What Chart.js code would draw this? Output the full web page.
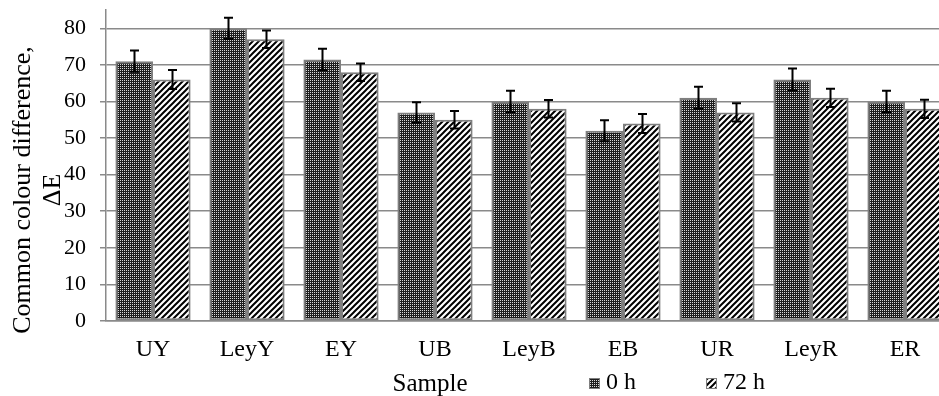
<!DOCTYPE html>
<html>
<head>
<meta charset="utf-8">
<script src="https://cdn.jsdelivr.net/npm/chart.js@4.4.1/dist/chart.umd.min.js"></script>
<style>
  html, body { margin: 0; padding: 0; background: #ffffff; overflow: hidden; }
  #wrap { width: 960px; height: 396px; }
</style>
</head>
<body>
<div id="wrap"><canvas id="c" width="960" height="396"></canvas></div>
<script>
const categories = ['UY', 'LeyY', 'EY', 'UB', 'LeyB', 'EB', 'UR', 'LeyR', 'ER'];
const values0h  = [71, 80, 71.5, 57, 60, 52, 61, 66, 60];
const values72h = [66, 77, 68, 55, 58, 54, 57, 61, 58];
const err0h  = [2.9, 2.9, 2.9, 2.8, 2.9, 2.85, 3.0, 3.0, 2.9];
const err72h = [2.6, 2.4, 2.4, 2.4, 2.4, 2.6, 2.5, 2.5, 2.5];
const seriesLabels = ['0 h', '72 h'];
const yTickValues = [0, 10, 20, 30, 40, 50, 60, 70, 80];
const yTitleLines = ['Common colour difference,', 'ΔE'];
const xTitle = 'Sample';

const SERIF = '"Liberation Serif", "DejaVu Serif", serif';
const GRID = '#8a8a8a';

function checkerPattern() {
  const c = document.createElement('canvas');
  c.width = 2; c.height = 2;
  const g = c.getContext('2d');
  g.fillStyle = '#1e1e1e';
  g.fillRect(0, 0, 2, 2);
  g.fillStyle = '#d8d8d8';
  g.fillRect(0, 0, 1, 1);
  return g.createPattern(c, 'repeat');
}
function hatchPattern() {
  const s = 6;
  const c = document.createElement('canvas');
  c.width = s; c.height = s;
  const g = c.getContext('2d');
  g.fillStyle = '#ffffff';
  g.fillRect(0, 0, s, s);
  g.strokeStyle = '#000000';
  g.lineWidth = 2;
  g.beginPath();
  g.moveTo(-1, s + 1); g.lineTo(s + 1, -1);
  g.moveTo(-1, 1); g.lineTo(1, -1);
  g.moveTo(s - 1, s + 1); g.lineTo(s + 1, s - 1);
  g.stroke();
  return g.createPattern(c, 'repeat');
}

const fills = [checkerPattern(), hatchPattern()];
const errors = [err0h, err72h];

const errorBarPlugin = {
  id: 'errorBars',
  afterDatasetsDraw(chart) {
    const ctx = chart.ctx;
    const y = chart.scales.y;
    ctx.save();
    ctx.strokeStyle = '#000000';
    ctx.lineWidth = 2;
    chart.data.datasets.forEach((ds, di) => {
      const meta = chart.getDatasetMeta(di);
      meta.data.forEach((bar, i) => {
        const v = ds.data[i];
        const e = errors[di][i];
        const x = Math.round(bar.x) + 0.5;
        const yt = y.getPixelForValue(v + e);
        const yb = y.getPixelForValue(v - e);
        ctx.beginPath();
        ctx.moveTo(x, yt); ctx.lineTo(x, yb);
        ctx.moveTo(x - 4.5, yt); ctx.lineTo(x + 4.5, yt);
        ctx.moveTo(x - 4.5, yb); ctx.lineTo(x + 4.5, yb);
        ctx.stroke();
      });
    });
    ctx.restore();
  }
};

const textPlugin = {
  id: 'extraText',
  afterDraw(chart) {
    const ctx = chart.ctx;
    ctx.save();
    ctx.fillStyle = '#000000';
    ctx.font = '26px ' + SERIF;
    ctx.textAlign = 'center';
    ctx.textBaseline = 'middle';
    const cy = 190;
    const xs = [23, 53];
    yTitleLines.forEach((t, i) => {
      ctx.save();
      ctx.translate(xs[i], cy);
      ctx.rotate(-Math.PI / 2);
      ctx.fillText(t, 0, 0);
      ctx.restore();
    });
    ctx.font = '25px ' + SERIF;
    ctx.textAlign = 'center';
    ctx.textBaseline = 'alphabetic';
    ctx.fillText(xTitle, 430, 391);
    const legendX = [589, 706];
    ctx.font = '24px ' + SERIF;
    ctx.textAlign = 'left';
    chart.data.datasets.forEach((ds, i) => {
      const lx = legendX[i];
      ctx.fillStyle = fills[i];
      ctx.fillRect(lx, 378, 10, 10);
      ctx.strokeStyle = '#7f7f7f';
      ctx.lineWidth = 1;
      ctx.strokeRect(lx + 0.5, 378.5, 10, 10);
      ctx.fillStyle = '#000000';
      ctx.fillText(ds.label, lx + 17, 389);
    });
    ctx.restore();
  }
};

new Chart(document.getElementById('c'), {
  type: 'bar',
  data: {
    labels: categories,
    datasets: [
      { label: seriesLabels[0], data: values0h, backgroundColor: fills[0], borderColor: '#7f7f7f', borderWidth: 2, borderSkipped: false },
      { label: seriesLabels[1], data: values72h, backgroundColor: fills[1], borderColor: '#7f7f7f', borderWidth: 2, borderSkipped: false }
    ]
  },
  options: {
    responsive: false,
    animation: false,
    events: [],
    layout: { padding: { top: 10, right: 8, left: 0, bottom: 0 } },
    datasets: { bar: { categoryPercentage: 0.8, barPercentage: 1.0 } },
    plugins: { legend: { display: false }, tooltip: { enabled: false } },
    scales: {
      x: {
        grid: { display: false },
        border: { display: true, color: GRID, width: 1.5 },
        ticks: { color: '#000000', font: { family: SERIF, size: 24 }, padding: 6, maxRotation: 0, autoSkip: false },
        afterFit(s) { s.height = 75; s.paddingLeft = 0; s.paddingRight = 0; }
      },
      y: {
        min: 0,
        max: 85,
        afterBuildTicks(s) { s.ticks = yTickValues.map(v => ({ value: v })); },
        grid: { color: GRID, lineWidth: 1.5, tickLength: 6, drawTicks: true },
        border: { display: true, color: GRID, width: 1.5 },
        ticks: { color: '#000000', font: { family: SERIF, size: 22 }, padding: 14 },
        afterFit(s) { s.width = 106; s.paddingTop = 0; s.paddingBottom = 0; }
      }
    }
  },
  plugins: [errorBarPlugin, textPlugin]
});
</script>
</body>
</html>
